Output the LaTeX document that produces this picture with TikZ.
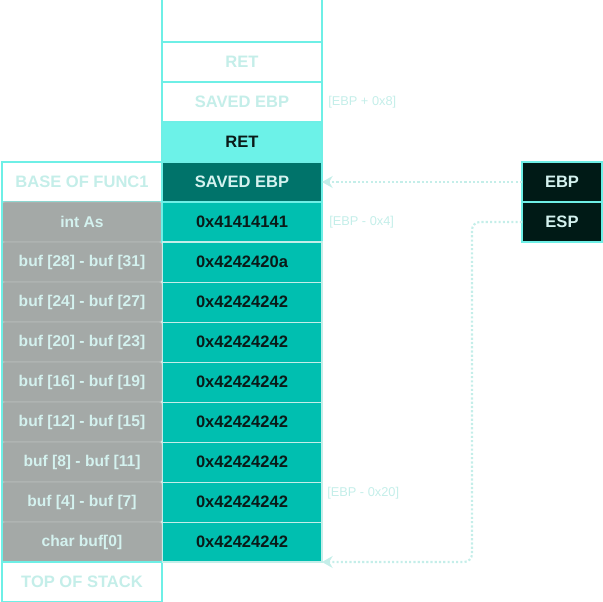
\documentclass[tikz,border=0pt]{standalone}
\usepackage{fontspec}
\setmainfont{Liberation Sans}
\usetikzlibrary{arrows.meta}
\definecolor{cyanb}{HTML}{6EEFE6}
\definecolor{pale}{HTML}{C4EEE9}
\definecolor{teal2}{HTML}{00BFB0}
\definecolor{dteal}{HTML}{00736A}
\definecolor{retfill}{HTML}{6CF2E8}
\definecolor{grayf}{HTML}{A4A9A7}
\definecolor{grayline}{HTML}{B8BDBB}
\definecolor{graytext}{HTML}{D4F2EF}
\definecolor{regfill}{HTML}{001A16}
\definecolor{txt}{HTML}{0A1A18}
\begin{document}
\begin{tikzpicture}[x=0.75pt,y=-0.75pt,
  cell/.style={minimum width=120pt, minimum height=30pt, inner sep=0pt, outer sep=0pt,
    line width=1.5pt, font=\fontsize{12.4}{14}\selectfont\bfseries},
  ghost/.style={cell, draw=cyanb, fill=white, text=pale},
  retcell/.style={cell, draw=cyanb, fill=retfill, text=txt},
  ebpcell/.style={cell, draw=cyanb, fill=dteal, text=graytext},
  valcell/.style={cell, draw=pale, line width=0.6pt, fill=teal2, text=txt},
  firstval/.style={cell, draw=cyanb, fill=teal2, text=txt},
  graycell/.style={cell, draw=grayline, line width=0.6pt, fill=grayf, text=graytext,
    rounded corners=2pt, font=\fontsize{11.7}{14}\selectfont\bfseries},
  regcell/.style={cell, minimum width=60pt, draw=cyanb, fill=regfill, text=graytext},
  addr/.style={anchor=west, inner sep=0pt, text=pale, font=\fontsize{9.6}{11}\selectfont},
  ptr/.style={pale, line width=1.6pt, dash pattern=on 1.6pt off 1.6pt, -{Stealth[length=8pt,width=9pt]}}
]
\useasboundingbox (0,0) rectangle (603,602);

% top open slot
\coordinate (tl) at (162,0);
\coordinate (tr) at (322,0);

% middle column
\node[ghost] (m_ret0) at (242,62) {RET};
\node[ghost] (m_ebp0) at (242,102) {SAVED EBP};
\draw[cyanb, line width=1.5pt] (tl) -- (m_ret0.north west);
\draw[cyanb, line width=1.5pt] (tr) -- (m_ret0.north east);
\node[retcell] (m_ret) at (242,142) {RET};
\node[ebpcell] (m_ebp) at (242,182) {SAVED EBP};

% left column
\node[ghost] (base) at (82,182) {BASE OF FUNC1};
\node[graycell] (g1) at (82,222) {int As};
\node[graycell] (g2) at (82,262) {buf [28] - buf [31]};
\node[graycell] (g3) at (82,302) {buf [24] - buf [27]};
\node[graycell] (g4) at (82,342) {buf [20] - buf [23]};
\node[graycell] (g5) at (82,382) {buf [16] - buf [19]};
\node[graycell] (g6) at (82,422) {buf [12] - buf [15]};
\node[graycell] (g7) at (82,462) {buf [8] - buf [11]};
\node[graycell] (g8) at (82,502) {buf [4] - buf [7]};
\node[graycell] (g9) at (82,542) {char buf[0]};
\node[ghost] (tos) at (82,582) {TOP OF STACK};
\draw[cyanb, line width=1pt] (g1.north west) -- (g9.south west);

% values
\node[valcell] (v2) at (242,262) {0x4242420a};
\node[valcell] (v3) at (242,302) {0x42424242};
\node[valcell] (v4) at (242,342) {0x42424242};
\node[valcell] (v5) at (242,382) {0x42424242};
\node[valcell] (v6) at (242,422) {0x42424242};
\node[valcell] (v7) at (242,462) {0x42424242};
\node[valcell] (v8) at (242,502) {0x42424242};
\node[valcell] (v9) at (242,542) {0x42424242};
\node[firstval] (v1) at (242,222) {0x41414141};
\draw[pale, line width=1.5pt] (v2.north west) -- (v2.north east) -- (v9.south east) -- (v9.south west);

% address labels
\node[addr] (a1) at (328,102) {[EBP + 0x8]};
\node[addr] (a2) at (329,222) {[EBP - 0x4]};
\node[addr] (a3) at (327,493) {[EBP - 0x20]};

% registers
\node[regcell] (ebp) at (562,182) {EBP};
\node[regcell] (esp) at (562,222) {ESP};

% pointers
\coordinate (turn) at (472,562);
\draw[ptr] (ebp.west) -- (m_ebp.east);
\draw[ptr, rounded corners=6pt] (esp.west) -| (turn) -- (v9.south east);
\end{tikzpicture}
\end{document}
